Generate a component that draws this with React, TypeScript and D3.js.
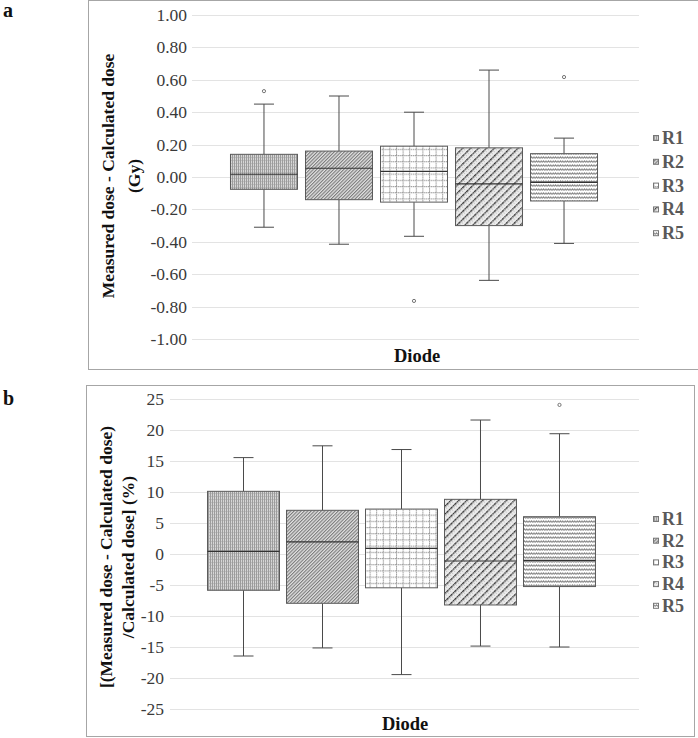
import React from "react";
import * as d3 from "d3";

const series = ["R1", "R2", "R3", "R4", "R5"];

// Panel a: Measured - Calculated dose (Gy)
const aWhiskerLow = [-0.31, -0.415, -0.366, -0.638, -0.41];
const aQ1 = [-0.076, -0.14, -0.155, -0.3, -0.148];
const aMedian = [0.017, 0.054, 0.035, -0.043, -0.033];
const aQ3 = [0.14, 0.16, 0.19, 0.18, 0.144];
const aWhiskerHigh = [0.45, 0.5, 0.4, 0.66, 0.24];
const aOutliers: [string, number][] = [["R1", 0.53], ["R3", -0.765], ["R5", 0.617]];
const aTicks = [1, 0.8, 0.6, 0.4, 0.2, 0, -0.2, -0.4, -0.6, -0.8, -1];

// Panel b: relative difference (%)
const bWhiskerLow = [-16.5, -15.2, -19.5, -14.9, -15.05];
const bQ1 = [-5.9, -8.0, -5.5, -8.27, -5.3];
const bMedian = [0.39, 1.9, 0.87, -1.18, -1.07];
const bQ3 = [10.06, 7.0, 7.2, 8.77, 5.97];
const bWhiskerHigh = [15.5, 17.4, 16.8, 21.56, 19.35];
const bOutliers: [string, number][] = [["R5", 24.0]];
const bTicks = [25, 20, 15, 10, 5, 0, -5, -10, -15, -20, -25];

const patternIds = ["patR1", "patR2", "patR3", "patR4", "patR5"];
const SERIF = "'Liberation Serif', 'Times New Roman', 'DejaVu Serif', serif";

function Patterns() {
  return (
    <defs>
      <pattern id="patR1" patternUnits="userSpaceOnUse" width="2" height="3">
        <rect width="2" height="3" fill="#d6d6d6" />
        <rect x="0" y="0" width="1" height="3" fill="#9c9c9c" />
        <rect x="1" y="1" width="1" height="1" fill="#bdbdbd" />
      </pattern>
      <pattern id="patR2" patternUnits="userSpaceOnUse" width="2.4" height="2.4" patternTransform="rotate(45)">
        <rect width="2.4" height="2.4" fill="#e2e2e2" />
        <rect x="0" y="0" width="1.1" height="2.4" fill="#7a7a7a" />
      </pattern>
      <pattern id="patR3" patternUnits="userSpaceOnUse" width="6.6" height="6.2">
        <rect width="6.6" height="6.2" fill="#ffffff" />
        <line x1="0.5" y1="0" x2="0.5" y2="6.2" stroke="#9a9a9a" strokeWidth="1" strokeDasharray="1.2,0.6" />
        <line x1="0" y1="0.5" x2="6.6" y2="0.5" stroke="#9a9a9a" strokeWidth="1" strokeDasharray="1.2,0.6" />
      </pattern>
      <pattern id="patR4" patternUnits="userSpaceOnUse" width="5.6" height="5.6" patternTransform="rotate(45)">
        <rect width="5.6" height="5.6" fill="#ebebeb" />
        <circle cx="3" cy="1.4" r="0.55" fill="#a8a8a8" />
        <circle cx="3" cy="4.2" r="0.55" fill="#a8a8a8" />
        <line x1="0.7" y1="0" x2="0.7" y2="5.6" stroke="#333333" strokeWidth="1.4" strokeDasharray="1.9,0.5" />
      </pattern>
      <pattern id="patR5" patternUnits="userSpaceOnUse" width="2.4" height="4">
        <rect width="2.4" height="4" fill="#ffffff" />
        <path d="M0,2.6 L1.2,0.9 L2.4,2.6" fill="none" stroke="#7c7c7c" strokeWidth="0.9" />
      </pattern>
    </defs>
  );
}

type PanelProps = {
  frame: { x: number; y: number; w: number; h: number };
  domain: [number, number];
  yRange: [number, number];
  gridX: [number, number];
  bandRange: [number, number];
  paddingInner: number;
  paddingOuter: number;
  ticks: number[];
  tickFmt: (v: number) => string;
  tickX: number;
  low: number[];
  q1: number[];
  med: number[];
  q3: number[];
  high: number[];
  outliers: [string, number][];
  titleLines: string[];
  titleX: number[];
  titleY: number;
  diodeX: number;
  diodeY: number;
  legendY0: number;
  legendStep: number;
  panelLabel: string;
  panelLabelY: number;
};

function Panel(p: PanelProps) {
  const y = d3.scaleLinear().domain(p.domain).range(p.yRange);
  const x = d3
    .scaleBand<string>()
    .domain(series)
    .range(p.bandRange)
    .paddingInner(p.paddingInner)
    .paddingOuter(p.paddingOuter);
  const bw = x.bandwidth();
  const capW = 20;
  return (
    <g>
      <text x={3} y={p.panelLabelY} fontFamily={SERIF} fontWeight="bold" fontSize={20} fill="#111">
        {p.panelLabel}
      </text>
      <rect x={p.frame.x + 0.5} y={p.frame.y + 0.5} width={p.frame.w} height={p.frame.h} fill="#fff" stroke="#a6a6a6" strokeWidth={1} />
      {p.ticks.map((t) => (
        <g key={t}>
          <line x1={p.gridX[0]} x2={p.gridX[1]} y1={Math.round(y(t)) + 0.5} y2={Math.round(y(t)) + 0.5} stroke="#e3e3e3" strokeWidth={1} />
          <text x={p.tickX} y={y(t)} textAnchor="end" dominantBaseline="central" fontFamily={SERIF} fontSize={17.5} fill="#3a3a3a">
            {p.tickFmt(t)}
          </text>
        </g>
      ))}
      {series.map((s, i) => {
        const x0 = x(s)!;
        const cx = x0 + bw / 2;
        return (
          <g key={s}>
            <line x1={cx} x2={cx} y1={y(p.high[i])} y2={y(p.q3[i])} stroke="#4a4a4a" strokeWidth={1} />
            <line x1={cx} x2={cx} y1={y(p.q1[i])} y2={y(p.low[i])} stroke="#4a4a4a" strokeWidth={1} />
            <line x1={cx - capW / 2} x2={cx + capW / 2} y1={y(p.high[i])} y2={y(p.high[i])} stroke="#4a4a4a" strokeWidth={1} />
            <line x1={cx - capW / 2} x2={cx + capW / 2} y1={y(p.low[i])} y2={y(p.low[i])} stroke="#4a4a4a" strokeWidth={1} />
            <rect
              x={x0}
              y={y(p.q3[i])}
              width={bw}
              height={y(p.q1[i]) - y(p.q3[i])}
              fill={`url(#${patternIds[i]})`}
              stroke="#5a5a5a"
              strokeWidth={1}
            />
            <line x1={x0} x2={x0 + bw} y1={y(p.med[i])} y2={y(p.med[i])} stroke="#333" strokeWidth={1.2} />
          </g>
        );
      })}
      {p.outliers.map(([s, v], k) => (
        <circle key={k} cx={x(s)! + bw / 2} cy={y(v)} r={1.6} fill="#fff" stroke="#666" strokeWidth={0.9} />
      ))}
      <g transform={`translate(0,${p.titleY}) rotate(-90)`}>
        {p.titleLines.map((l, k) => (
          <text
            key={k}
            x={0}
            y={p.titleX[k]}
            textAnchor="middle"
            dominantBaseline="central"
            fontFamily={SERIF}
            fontWeight="bold"
            fontSize={17.5}
            fill="#111"
          >
            {l}
          </text>
        ))}
      </g>
      <text x={p.diodeX} y={p.diodeY} textAnchor="middle" fontFamily={SERIF} fontWeight="bold" fontSize={18.5} fill="#111">
        Diode
      </text>
      {series.map((s, i) => {
        const ly = p.legendY0 + i * p.legendStep;
        return (
          <g key={s}>
            <rect x={653.5} y={ly - 2.5} width={5} height={5} fill={`url(#${patternIds[i]})`} stroke="#777" strokeWidth={1} />
            <text x={662} y={ly} dominantBaseline="central" fontFamily={SERIF} fontWeight="bold" fontSize={18} fill="#595959">
              {s}
            </text>
          </g>
        );
      })}
    </g>
  );
}

export default function App() {
  return (
    <div style={{ position: "fixed", left: 0, top: 0 }}>
      <svg width={698} height={738} style={{ display: "block" }}>
        <Patterns />
        <rect width={698} height={738} fill="#fff" />
        <Panel
          frame={{ x: 88, y: 0, w: 611, h: 369 }}
          domain={[-1, 1]}
          yRange={[339, 15]}
          gridX={[192, 639]}
          bandRange={[190.5, 637.5]}
          paddingInner={0.107}
          paddingOuter={0.533}
          ticks={aTicks}
          tickFmt={(v) => d3.format(".2f")(v).replace("−", "-")}
          tickX={187}
          low={aWhiskerLow}
          q1={aQ1}
          med={aMedian}
          q3={aQ3}
          high={aWhiskerHigh}
          outliers={aOutliers}
          titleLines={["Measured dose - Calculated dose", "(Gy)"]}
          titleX={[108, 134]}
          titleY={176}
          diodeX={417}
          diodeY={362}
          legendY0={138}
          legendStep={23.8}
          panelLabel="a"
          panelLabelY={17}
        />
        <Panel
          frame={{ x: 86, y: 385, w: 608, h: 351 }}
          domain={[-25, 25]}
          yRange={[708.7, 398.7]}
          gridX={[170, 639]}
          bandRange={[167, 636]}
          paddingInner={0.089}
          paddingOuter={0.513}
          ticks={bTicks}
          tickFmt={(v) => d3.format("d")(v).replace("−", "-")}
          tickX={164}
          low={bWhiskerLow}
          q1={bQ1}
          med={bMedian}
          q3={bQ3}
          high={bWhiskerHigh}
          outliers={bOutliers}
          titleLines={["[(Measured dose - Calculated dose)", "/Calculated dose] (%)"]}
          titleX={[106, 128]}
          titleY={557}
          diodeX={405}
          diodeY={730}
          legendY0={519}
          legendStep={21.7}
          panelLabel="b"
          panelLabelY={405}
        />
      </svg>
    </div>
  );
}
